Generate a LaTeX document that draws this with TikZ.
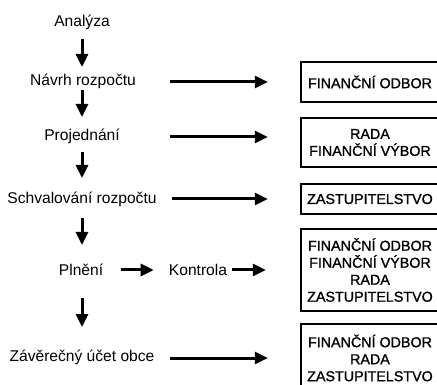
\documentclass[tikz,border=0pt]{standalone}
\usepackage{fontspec}
\setmainfont{Liberation Sans}
\newfontfamily\orgfont{Liberation Sans}[RawFeature={embolden=1.2}]
\usetikzlibrary{arrows.meta}
\begin{document}
\begin{tikzpicture}[x=1pt,y=-1pt,
  lbl/.style={font=\fontsize{15.6}{18}\selectfont, inner sep=0pt, text height=11pt, text depth=3.5pt},
  org/.style={draw, line width=2.4pt, align=center, inner sep=0pt,
    font=\orgfont\fontsize{14.3}{17}\selectfont, minimum width=138pt},
  flow/.style={line width=3pt, -{Triangle[length=13pt,width=12pt]}}]
\useasboundingbox (0,0) rectangle (437,385);
\clip (0,0) rectangle (437,385);

% process steps
\node[lbl] (ana) at (82,23) {Analýza};
\node[lbl] (nav) at (83,82) {Návrh rozpočtu};
\node[lbl] (pro) at (82,137) {Projednání};
\node[lbl] (sch) at (82,200) {Schvalování rozpočtu};
\node[lbl] (pln) at (81,272) {Plnění};
\node[lbl] (kon) at (198,272) {Kontrola};
\node[lbl] (zav) at (82,358) {Závěrečný účet obce};

% responsible bodies
\node[org, minimum height=40pt] (b1) at (370,82) {FINANČNÍ ODBOR};
\node[org, minimum height=49pt] (b2) at (370,142.5) {RADA\\FINANČNÍ VÝBOR};
\node[org, minimum height=30pt] (b3) at (370,199) {ZASTUPITELSTVO};
\node[org, minimum height=82pt] (b4) at (370,270) {FINANČNÍ ODBOR\\FINANČNÍ VÝBOR\\RADA\\ZASTUPITELSTVO};
\node[org, minimum height=68pt] (b5) at (370,358) {FINANČNÍ ODBOR\\RADA\\ZASTUPITELSTVO};

% vertical flow
\coordinate (c2) at (82,82);
\coordinate (c4) at (82,272);
\draw[flow, shorten <=16pt, shorten >=15pt] (ana.center) -- (c2);
\draw[flow, shorten <=8pt, shorten >=20pt] (c2) -- (pro.center);
\draw[flow, shorten <=15pt, shorten >=22pt] (pro.center) -- (sch.center);
\draw[flow, shorten <=18pt, shorten >=27pt] (sch.center) -- (c4);
\draw[flow, shorten <=26pt, shorten >=31pt] (c4) -- (zav.center);

% links to responsible bodies
\coordinate (s1) at (170,82);
\coordinate (s2) at (170,137);
\coordinate (s3) at (172,199);
\coordinate (s5) at (170,358);
\draw[flow, shorten >=32pt] (s1) -- (s1 -| b1.west);
\draw[flow, shorten >=32pt] (s2) -- (s2 -| b2.west);
\draw[flow, shorten >=32pt] (s3) -- (s3 -| b3.west);
\draw[flow, shorten >=32pt] (s5) -- (s5 -| b5.west);
\draw[flow, shorten <=18pt, shorten >=15pt] ([yshift=2pt]pln.east) -- ([yshift=2pt]kon.west);
\draw[flow, shorten <=5pt, shorten >=34pt] ([yshift=2pt]kon.east) -- ([yshift=2pt]kon.east -| b4.west);
\end{tikzpicture}
\end{document}
